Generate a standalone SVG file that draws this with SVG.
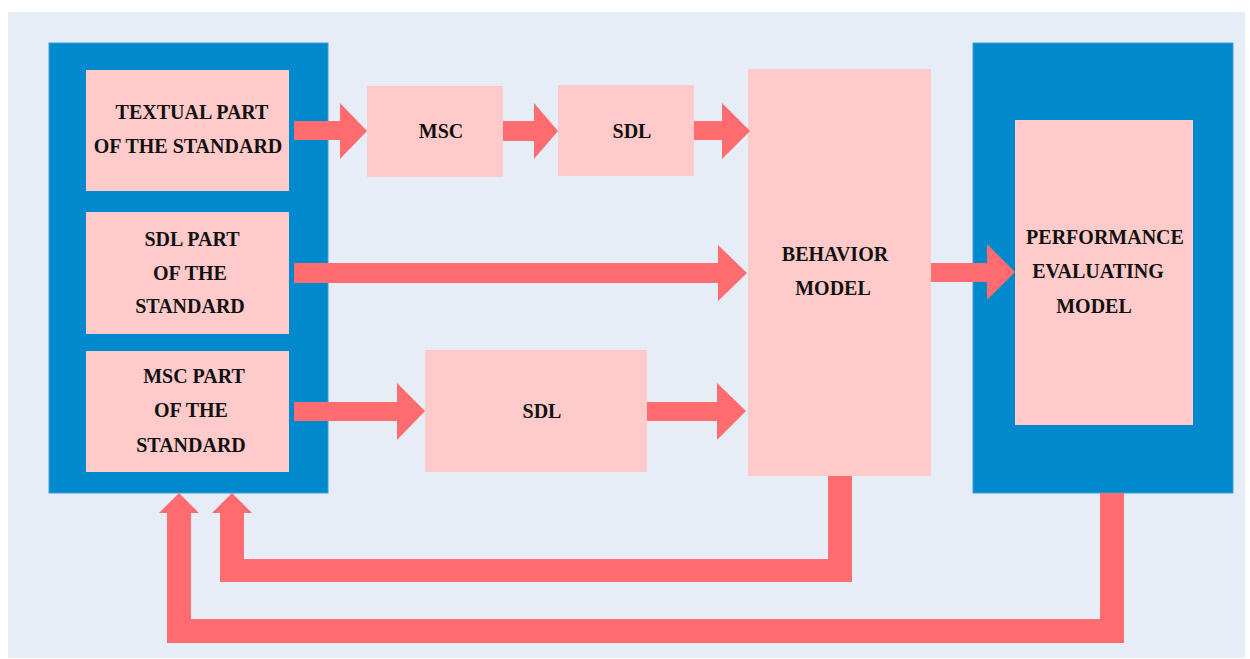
<svg xmlns="http://www.w3.org/2000/svg" width="1250" height="659" viewBox="0 0 1250 659">
<style>
.bg{fill:#E6EDF7}
.blue{fill:#008ACD;stroke:#3A9FD8;stroke-width:1}
.pink{fill:#FFCACA}
.arrow{fill:#FF6C70}
.t{font-family:'Liberation Serif','DejaVu Serif',serif;font-weight:700;font-size:20px;fill:#111111;text-anchor:middle}
</style>
<rect x="0" y="0" width="1250" height="659" fill="#FFFFFF"/>
<rect class="bg" x="8" y="12" width="1237" height="646"/>

<g id="standard-group">
<rect class="blue" x="49" y="43" width="279" height="450"/>
</g>
<g id="textual-part">
<rect class="pink" x="86" y="70" width="203" height="121"/>
<text class="t" x="192" y="119">TEXTUAL PART</text>
<text class="t" x="188" y="153">OF THE STANDARD</text>
</g>
<g id="sdl-part">
<rect class="pink" x="86" y="212" width="203" height="122"/>
<text class="t" x="192" y="246">SDL PART</text>
<text class="t" x="190" y="280">OF THE</text>
<text class="t" x="190" y="313">STANDARD</text>
</g>
<g id="msc-part">
<rect class="pink" x="86" y="351" width="203" height="121"/>
<text class="t" x="194" y="383">MSC PART</text>
<text class="t" x="191" y="417">OF THE</text>
<text class="t" x="191" y="452">STANDARD</text>
</g>
<g id="msc">
<rect class="pink" x="367" y="86" width="136" height="91"/>
<text class="t" x="441" y="138">MSC</text>
</g>
<g id="sdl-top">
<rect class="pink" x="558" y="85" width="136" height="91"/>
<text class="t" x="632" y="138">SDL</text>
</g>
<g id="sdl-bottom">
<rect class="pink" x="425" y="350" width="222" height="122"/>
<text class="t" x="542" y="418">SDL</text>
</g>
<g id="behavior-model">
<rect class="pink" x="748" y="69" width="183" height="407"/>
<text class="t" x="835" y="261">BEHAVIOR</text>
<text class="t" x="833" y="295">MODEL</text>
</g>
<g id="performance-group">
<rect class="blue" x="973" y="43" width="260" height="450"/>
</g>
<g id="performance-model">
<rect class="pink" x="1015" y="120" width="178" height="305"/>
<text class="t" x="1105" y="244">PERFORMANCE</text>
<text class="t" x="1098" y="278">EVALUATING</text>
<text class="t" x="1094" y="313">MODEL</text>
</g>

<g id="connectors">
<polygon class="arrow" points="294,121 340,121 340,103 367,131 340,159 340,140 294,140"/>
<polygon class="arrow" points="503,121 534,121 534,103 558,131 534,159 534,141 503,141"/>
<polygon class="arrow" points="694,121 722,121 722,103 750,131 722,159 722,140 694,140"/>
<polygon class="arrow" points="294,263 718,263 718,245 747,273 718,301 718,283 294,283"/>
<polygon class="arrow" points="294,402 397,402 397,383 425,411 397,440 397,421 294,421"/>
<polygon class="arrow" points="647,402 717,402 717,383 746,411 717,440 717,421 647,421"/>
<polygon class="arrow" points="931,263 987,263 987,244 1015,272 987,300 987,282 931,282"/>
<polygon class="arrow" points="852,476 852,582 220,582 220,513 212,513 232,493 252,513 244,513 244,559 828,559 828,476"/>
<polygon class="arrow" points="1124,493 1124,643 167,643 167,513 159,513 179,493 199,513 191,513 191,619 1100,619 1100,493"/>
</g>
</svg>
